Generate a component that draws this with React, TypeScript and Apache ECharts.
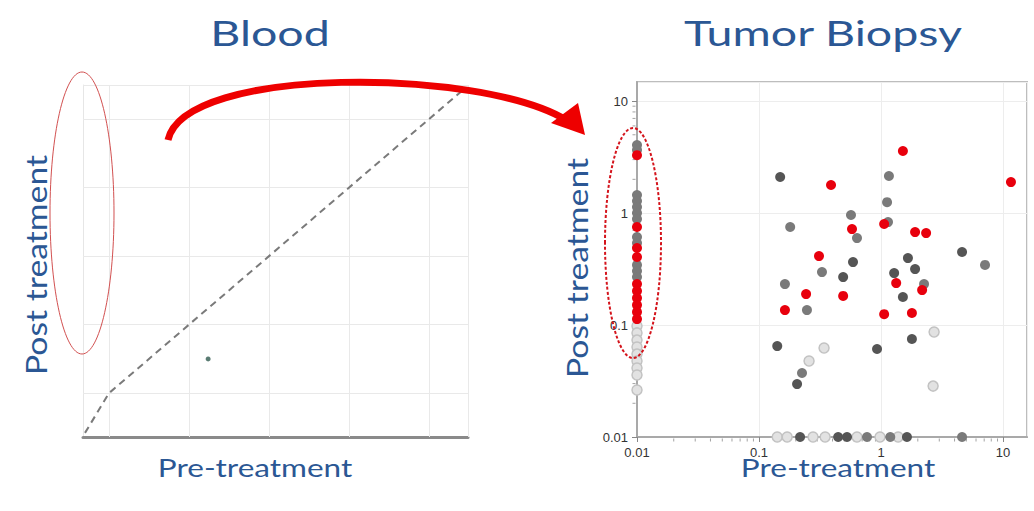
import React, { useEffect, useRef } from 'react';
import * as echarts from 'echarts';

// ---------- Blood panel (linear, unlabeled) ----------
const bloodGridX = [0, 1, 2, 3, 4];
const bloodGridY = [0, 1, 2, 3, 4];
const bloodXRange = [-0.325, 4.49];
const bloodYRange = [-0.64, 4.5];
const identityLine = [[-0.3, -0.58], [0, 0], [4.42, 4.42]];
const bloodPoints = [[1.24, 0.5]];

// ---------- Tumor Biopsy panel (log-log) ----------
const tumorMin = 0.01;
const tumorXMax = 15.7;
const tumorYMax = 14.8;
const minorTicks = [
  0.02, 0.03, 0.04, 0.05, 0.06, 0.07, 0.08, 0.09,
  0.2, 0.3, 0.4, 0.5, 0.6, 0.7, 0.8, 0.9,
  2, 3, 4, 5, 6, 7, 8, 9,
];

const darkPoints = [
  [0.149, 2.1], [4.61, 0.449], [0.589, 0.365], [1.66, 0.396], [1.9, 0.316],
  [0.489, 0.268], [1.28, 0.291], [1.51, 0.178], [1.79, 0.075], [0.141, 0.0649],
  [0.927, 0.0611], [0.205, 0.0297],
];
const grayPoints = [
  [0.18, 0.75], [1.16, 2.14], [1.12, 1.25], [0.567, 0.96], [1.14, 0.83],
  [0.635, 0.598], [7.11, 0.344], [0.328, 0.297], [0.163, 0.232], [2.25, 0.232],
  [0.247, 0.136], [0.225, 0.0373],
];
const lightPoints = [[2.72, 0.0866], [0.341, 0.0624], [0.257, 0.0477], [2.67, 0.0285]];
const redPoints = [
  [1.51, 3.58], [0.389, 1.78], [11.6, 1.89], [0.578, 0.719], [1.06, 0.798],
  [1.9, 0.676], [2.34, 0.662], [0.31, 0.413], [0.243, 0.189], [0.489, 0.182],
  [1.33, 0.237], [2.17, 0.205], [0.163, 0.136], [1.06, 0.125], [1.79, 0.128],
];
// points sitting on the x = 0.01 axis (post-treatment values)
const columnGrayY = [4.05, 3.65, 1.45, 1.28, 1.13, 1.0, 0.883, 0.611, 0.54, 0.344, 0.303, 0.268];
const columnRedY = [3.29, 0.75, 0.487, 0.405, 0.232, 0.201, 0.174, 0.151, 0.131, 0.113];
const columnLightY = [0.098, 0.085, 0.0734, 0.0637, 0.055, 0.0477, 0.0413, 0.0358, 0.0263];
// points sitting on the y = 0.01 axis (pre-treatment values)
const rowDarkX = [0.217, 0.445, 0.526, 1.63];
const rowGrayX = [0.767, 1.19, 4.61];
const rowLightX = [0.141, 0.17, 0.277, 0.348, 0.635, 0.98, 1.38];

const BLUE = '#2b5794';
const RED = '#e8000d';

function isDecade(v: number) {
  const l = Math.log10(v);
  return Math.abs(l - Math.round(l)) < 0.01;
}

export default function App() {
  const ref = useRef<HTMLDivElement>(null);

  useEffect(() => {
    if (!ref.current) return;
    document.body.style.margin = '0';
    const chart = echarts.init(ref.current, null, { renderer: 'svg' });

    const onColumn = (ys: number[]) => ys.map((y) => [tumorMin, y]);
    const onRow = (xs: number[]) => xs.map((x) => [x, tumorMin]);

    const logAxisCommon = {
      type: 'log' as const,
      logBase: 10,
      min: tumorMin,
      axisLine: { show: true, lineStyle: { color: '#a9a9a9', width: 2 } },
      axisTick: { show: true, length: 5, inside: false, lineStyle: { color: '#888', width: 1 } },
      axisLabel: {
        margin: 9,
        fontFamily: 'Liberation Sans, Arial, sans-serif',
        fontSize: 13,
        color: '#333',
        showMaxLabel: false,
        formatter: (v: number) => (isDecade(v) ? String(Number(v.toPrecision(2))) : ''),
      },
      splitLine: { show: true, lineStyle: { color: '#ededed', width: 1 } },
    };

    const pointSeries = (data: number[][], color: string, z: number, border?: string) => ({
      type: 'scatter' as const,
      xAxisIndex: 1,
      yAxisIndex: 1,
      data,
      symbolSize: 10,
      clip: false,
      z,
      itemStyle: border
        ? { color, borderColor: border, borderWidth: 1.5, opacity: 1 }
        : { color, opacity: 1 },
      silent: true,
    });

    const markLineData = [
      ...bloodGridX.map((v) => ({ xAxis: v })),
      ...bloodGridY.map((v) => ({ yAxis: v })),
      { xAxis: bloodXRange[1] },
      { yAxis: bloodYRange[1] },
    ];

    const titleFont = '35px Lato, sans-serif';
    const axisFont = '25px Lato, sans-serif';
    const vAxisFont = '27px Lato, sans-serif';

    const option: any = {
      animation: false,
      backgroundColor: '#ffffff',
      grid: [
        { left: 83, top: 85, width: 385, height: 352, show: false },
        {
          left: 637, top: 82, width: 390, height: 355, show: true,
          borderColor: '#bdbdbd', borderWidth: 2, backgroundColor: 'transparent',
        },
      ],
      xAxis: [
        {
          gridIndex: 0, type: 'value', min: bloodXRange[0], max: bloodXRange[1],
          axisLine: { show: true, onZero: false, lineStyle: { color: '#8a8a8a', width: 3 } },
          axisTick: { show: false }, axisLabel: { show: false }, splitLine: { show: false },
        },
        { gridIndex: 1, max: tumorXMax, ...logAxisCommon },
      ],
      yAxis: [
        {
          gridIndex: 0, type: 'value', min: bloodYRange[0], max: bloodYRange[1],
          axisLine: { show: true, onZero: false, lineStyle: { color: '#e6e6e6', width: 1 } },
          axisTick: { show: false }, axisLabel: { show: false }, splitLine: { show: false },
        },
        { gridIndex: 1, max: tumorYMax, ...logAxisCommon },
      ],
      series: [
        {
          type: 'line', xAxisIndex: 0, yAxisIndex: 0, data: identityLine,
          showSymbol: false, silent: true, z: 3,
          lineStyle: { color: '#7a7a7a', width: 2, type: [7, 5] },
          markLine: {
            silent: true, symbol: ['none', 'none'], label: { show: false }, z: 1,
            lineStyle: { color: '#e9e9e9', width: 1, type: 'solid' },
            data: markLineData,
          },
        },
        {
          type: 'scatter', xAxisIndex: 0, yAxisIndex: 0, data: bloodPoints,
          symbolSize: 5, itemStyle: { color: '#2f5a4f' }, silent: true, z: 4,
        },
        // minor ticks of the log axes
        {
          type: 'scatter', xAxisIndex: 1, yAxisIndex: 1, silent: true, clip: false, z: 1,
          data: minorTicks.map((v) => [v, tumorMin]), symbol: 'rect',
          symbolSize: [1, 3], symbolOffset: [0, 3], itemStyle: { color: '#8c8c8c' },
        },
        {
          type: 'scatter', xAxisIndex: 1, yAxisIndex: 1, silent: true, clip: false, z: 1,
          data: minorTicks.map((v) => [tumorMin, v]), symbol: 'rect',
          symbolSize: [3, 1], symbolOffset: [-3, 0], itemStyle: { color: '#8c8c8c' },
        },
        pointSeries([...lightPoints, ...onColumn(columnLightY), ...onRow(rowLightX)], '#e2e2e2', 5, '#c3c3c3'),
        pointSeries([...grayPoints, ...onColumn(columnGrayY), ...onRow(rowGrayX)], '#7a7a7a', 6),
        pointSeries([...darkPoints, ...onRow(rowDarkX)], '#555555', 7),
        pointSeries([...redPoints, ...onColumn(columnRedY)], RED, 8),
      ],
      graphic: [
        // titles
        {
          type: 'text', x: 270, y: 32, scaleX: 1.33, z: 100,
          style: { text: 'Blood', fill: BLUE, font: titleFont, textAlign: 'center', textVerticalAlign: 'middle' },
        },
        {
          type: 'text', x: 823, y: 32, scaleX: 1.33, z: 100,
          style: { text: 'Tumor Biopsy', fill: BLUE, font: titleFont, textAlign: 'center', textVerticalAlign: 'middle' },
        },
        // axis titles
        {
          type: 'text', x: 255, y: 467, scaleX: 1.26, z: 100,
          style: { text: 'Pre-treatment', fill: BLUE, font: axisFont, textAlign: 'center', textVerticalAlign: 'middle' },
        },
        {
          type: 'text', x: 838, y: 467, scaleX: 1.26, z: 100,
          style: { text: 'Pre-treatment', fill: BLUE, font: axisFont, textAlign: 'center', textVerticalAlign: 'middle' },
        },
        {
          type: 'text', x: 36, y: 265, rotation: Math.PI / 2, scaleX: 1.25, scaleY: 1.1, z: 100,
          style: { text: 'Post treatment', fill: BLUE, font: vAxisFont, textAlign: 'center', textVerticalAlign: 'middle' },
        },
        {
          type: 'text', x: 577, y: 268, rotation: Math.PI / 2, scaleX: 1.25, scaleY: 1.1, z: 100,
          style: { text: 'Post treatment', fill: BLUE, font: vAxisFont, textAlign: 'center', textVerticalAlign: 'middle' },
        },
        // annotations
        {
          type: 'ellipse', z: 100, silent: true,
          shape: { cx: 82, cy: 213, rx: 32, ry: 141 },
          style: { fill: 'none', stroke: '#d25050', lineWidth: 1 },
        },
        {
          type: 'ellipse', z: 100, silent: true,
          shape: { cx: 633, cy: 243, rx: 28, ry: 115 },
          style: { fill: 'none', stroke: '#d4141c', lineWidth: 2, lineDash: [3, 2] },
        },
        {
          type: 'bezierCurve', z: 100, silent: true,
          shape: { x1: 168, y1: 140, cpx1: 185, cpy1: 65, cpx2: 480, cpy2: 68, x2: 566, y2: 120 },
          style: { fill: 'none', stroke: '#ee0000', lineWidth: 7 },
        },
        {
          type: 'polygon', z: 100, silent: true,
          shape: { points: [[585, 135], [578, 103], [551, 123]] },
          style: { fill: '#ee0000' },
        },
      ],
    };

    chart.setOption(option);
    return () => chart.dispose();
  }, []);

  return (
    <div
      ref={ref}
      style={{ position: 'fixed', left: 0, top: 0, width: 1034, height: 511, background: '#fff' }}
    />
  );
}
